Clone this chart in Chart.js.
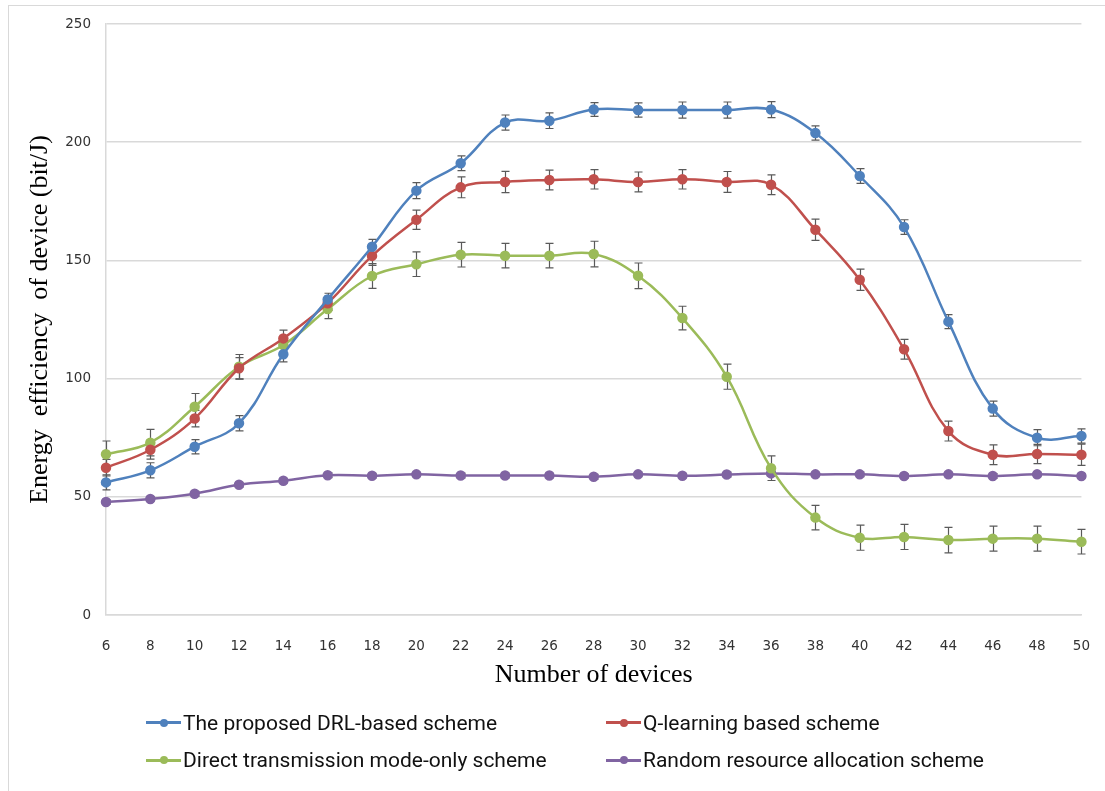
<!DOCTYPE html>
<html>
<head>
<meta charset="utf-8">
<script src="https://cdn.jsdelivr.net/npm/chart.js@4.4.1/dist/chart.umd.min.js"></script>
<style>
html,body{margin:0;padding:0;background:#fff;}
#wrap{position:relative;width:1105px;height:791px;overflow:hidden;}
#frame{position:absolute;left:8px;top:5px;right:-10px;bottom:-10px;border-left:1px solid #d9d9d9;border-top:1px solid #d9d9d9;}
#chart{position:absolute;left:0;top:0;}
#legend{position:absolute;left:146px;top:704px;display:grid;grid-template-columns:460px auto;grid-auto-rows:37.4px;
  font-family:Roboto,"Noto Sans",sans-serif;font-size:21px;color:#111;}
.item{display:flex;align-items:center;white-space:nowrap;}
.mark{position:relative;width:35px;height:3px;margin-right:2px;flex:none;}
.mark i{position:absolute;left:13.5px;top:-2.5px;width:8px;height:8px;border-radius:50%;}
</style>
</head>
<body>
<div id="wrap">
  <div id="frame"></div>
  <canvas id="chart" width="1105" height="791"></canvas>
  <div id="legend"></div>
</div>
<script>
// number of devices on the x axis
const devices = [6,8,10,12,14,16,18,20,22,24,26,28,30,32,34,36,38,40,42,44,46,48,50];

const drlValues = [56.1,61.2,71.2,81.1,110.3,133.5,155.8,179.5,191.1,208.3,209.1,213.8,213.6,213.6,213.6,213.8,203.9,185.7,164.1,124.1,87.3,75.0,75.7];
const drlErr    = [3.2,3.2,3.0,3.2,3.2,2.6,3.1,3.4,3.1,3.2,3.3,2.9,3.0,3.4,3.4,3.4,3.0,3.1,3.1,3.0,3.2,3.4,3.0];

const qlValues = [62.3,69.9,83.1,104.4,117.0,131.9,151.9,167.2,180.9,183.2,184.0,184.3,183.2,184.3,183.2,182.0,163.0,141.8,112.4,77.8,67.8,68.1,67.8];
const qlErr    = [3.5,4.0,3.5,4.5,3.5,3.0,4.0,4.1,4.4,4.5,4.2,4.1,4.2,4.1,4.4,4.2,4.5,4.5,4.2,4.2,4.2,4.1,4.5];

const directValues = [68.0,72.9,88.1,105.0,114.2,129.4,143.4,148.4,152.4,152.0,152.0,152.7,143.5,125.6,100.8,62.1,41.2,32.7,33.0,31.7,32.3,32.3,31.0];
const directErr    = [5.6,5.6,5.6,5.2,3.0,4.0,5.2,5.2,5.2,5.2,5.2,5.4,5.4,5.0,5.3,5.2,5.2,5.3,5.3,5.4,5.3,5.3,5.2];

const randomValues = [47.8,49.1,51.3,55.1,56.8,59.1,58.9,59.5,59.0,59.0,59.0,58.5,59.5,58.9,59.4,59.9,59.5,59.5,58.8,59.5,58.8,59.5,58.8];
const randomErr    = [1,1,1,1,1,1,1,1,1,1,1,1,1,1,1,1,1,1,1,1,1,1,1];

const yTicks = [0,50,100,150,200,250];

function series(label, color, data, errors){
  return {
    label, data, errors,
    borderColor: color, backgroundColor: color,
    pointBackgroundColor: color, pointBorderColor: color,
    borderWidth: 2.5, pointRadius: 4, pointHoverRadius: 4,
    tension: 0.4, fill: false
  };
}

// vertical error bars with caps, drawn under the lines and markers
const errorBars = {
  id: 'errorBars',
  beforeDatasetsDraw(chart){
    const {ctx, scales:{x, y}} = chart;
    ctx.save();
    ctx.strokeStyle = '#5a5a5a';
    ctx.lineWidth = 1.2;
    chart.data.datasets.forEach(ds => {
      ds.data.forEach((v, i) => {
        const e = ds.errors[i];
        const px = Math.round(x.getPixelForValue(i)) + 0.5;
        const top = y.getPixelForValue(v + e);
        const bot = y.getPixelForValue(v - e);
        ctx.beginPath();
        ctx.moveTo(px, top); ctx.lineTo(px, bot);
        ctx.moveTo(px - 4, top); ctx.lineTo(px + 4, top);
        ctx.moveTo(px - 4, bot); ctx.lineTo(px + 4, bot);
        ctx.stroke();
      });
    });
    ctx.restore();
  }
};

const chart = new Chart(document.getElementById('chart'), {
  type: 'line',
  data: {
    labels: devices,
    datasets: [
      series('The proposed DRL-based scheme', '#4f81bd', drlValues, drlErr),
      series('Q-learning based scheme', '#c0504d', qlValues, qlErr),
      series('Direct transmission mode-only scheme', '#9bbb59', directValues, directErr),
      series('Random resource allocation scheme', '#8064a2', randomValues, randomErr)
    ]
  },
  options: {
    responsive: false,
    devicePixelRatio: 1,
    animation: false,
    layout: { padding: { left: 20, right: 17, top: 24, bottom: 96 } },
    plugins: { legend: { display: false }, tooltip: { enabled: false } },
    scales: {
      x: {
        offset: false,
        grid: { display: false },
        border: { display: true, color: '#d9d9d9', width: 1.5 },
        ticks: { color: '#333', padding: 15, maxRotation: 0, autoSkip: false,
                 font: { family: '"DejaVu Sans"', size: 13.5 } },
        title: { display: true, text: 'Number of devices', color: '#000',
                 font: { family: '"Liberation Serif"', size: 26 }, padding: { top: 0, bottom: 4 } },
        afterFit(s){ s.height = 80; }
      },
      y: {
        min: 0, max: 250,
        afterBuildTicks(s){ s.ticks = yTicks.map(v => ({ value: v })); },
        grid: { color: '#d9d9d9', lineWidth: 1.5, drawTicks: false },
        border: { display: true, color: '#d9d9d9', width: 1.5 },
        ticks: { color: '#333', padding: 15,
                 font: { family: '"DejaVu Sans"', size: 13.5 } },
        title: { display: true, text: 'Energy  efficiency  of device (bit/J)', color: '#000',
                 font: { family: '"Liberation Serif"', size: 26 }, padding: { top: 5, bottom: 0 } },
        afterFit(s){ s.width = 86; }
      }
    }
  },
  plugins: [errorBars]
});

// legend in two columns, built from the chart's datasets
const legend = document.getElementById('legend');
chart.data.datasets.forEach(ds => {
  const item = document.createElement('div');
  item.className = 'item';
  const mark = document.createElement('span');
  mark.className = 'mark';
  mark.style.background = ds.borderColor;
  const dot = document.createElement('i');
  dot.style.background = ds.borderColor;
  mark.appendChild(dot);
  item.appendChild(mark);
  item.appendChild(document.createTextNode(ds.label));
  legend.appendChild(item);
});
</script>
</body>
</html>
